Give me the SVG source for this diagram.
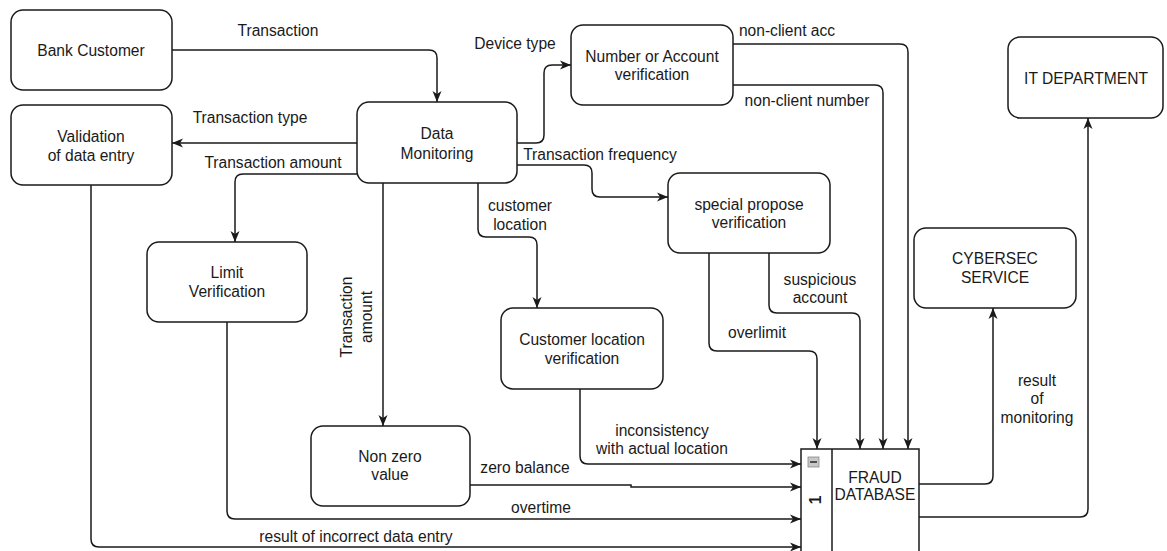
<svg xmlns="http://www.w3.org/2000/svg" width="1167" height="551" viewBox="0 0 1167 551">
<style>
.box{fill:#fff;stroke:#1a1a1a;stroke-width:1.5}
.t{font-family:"Liberation Sans",Arial,Helvetica,sans-serif;font-size:15.6px;fill:#1a1a1a;text-anchor:middle}
.e{fill:none;stroke:#1a1a1a;stroke-width:1.5}
.a{marker-end:url(#arr)}
</style>
<defs>
<marker id="arr" markerUnits="userSpaceOnUse" markerWidth="12" markerHeight="10" refX="11" refY="5" orient="auto" viewBox="0 0 12 10">
<path d="M0,0.5 L11,5 L0,9.5 L3,5 z" fill="#1a1a1a"/>
</marker>
</defs>
<rect width="1167" height="551" fill="#fff"/>

<g id="connectors">
<path class="e a" d="M172,50 H429 Q437,50 437,58 V102"/>
<path class="e a" d="M357,143 H172"/>
<path class="e a" d="M357,174 H243 Q235,174 235,182 V242"/>
<path class="e a" d="M383,183 V426"/>
<path class="e a" d="M478,183 V229 Q478,237 486,237 H529 Q537,237 537,245 V308"/>
<path class="e a" d="M517,143 H536 Q544,143 544,135 V73 Q544,65 552,65 H571"/>
<path class="e a" d="M517,165 H584 Q592,165 592,173 V189 Q592,197 600,197 H668"/>
<path class="e a" d="M733,44 H900 Q908,44 908,52 V449"/>
<path class="e a" d="M733,85 H875 Q883,85 883,93 V449"/>
<path class="e a" d="M709,253 V343 Q709,351 717,351 H809 Q817,351 817,359 V449"/>
<path class="e a" d="M769,253 V305 Q769,313 777,313 H852 Q860,313 860,321 V449"/>
<path class="e a" d="M580,389 V456 Q580,464 588,464 H801"/>
<path class="e a" d="M470,485 H631 V487 H801"/>
<path class="e a" d="M227,322 V511 Q227,519 235,519 H801"/>
<path class="e a" d="M91,185 V539 Q91,547 99,547 H801"/>
<path class="e a" d="M919,484 H985 Q993,484 993,476 V308"/>
<path class="e a" d="M919,517 H1080 Q1088,517 1088,509 V118"/>
</g>

<g id="labels">
<text class="t" x="278" y="36">Transaction</text>
<text class="t" x="250" y="123">Transaction type</text>
<text class="t" x="273" y="168">Transaction amount</text>
<text class="t" x="515" y="49">Device type</text>
<text class="t" x="600" y="160">Transaction frequency</text>
<text class="t" x="787" y="36">non-client acc</text>
<text class="t" x="807" y="106">non-client number</text>
<text class="t" x="520" y="211">customer</text>
<text class="t" x="520" y="230">location</text>
<text class="t" transform="translate(357,317) rotate(-90)" x="0" y="-5">Transaction</text>
<text class="t" transform="translate(357,317) rotate(-90)" x="0" y="15">amount</text>
<text class="t" x="820" y="285">suspicious</text>
<text class="t" x="820" y="303">account</text>
<text class="t" x="757" y="338">overlimit</text>
<text class="t" x="1037" y="386">result</text>
<text class="t" x="1037" y="404">of</text>
<text class="t" x="1037" y="423">monitoring</text>
<text class="t" x="662" y="436">inconsistency</text>
<text class="t" x="662" y="454">with actual location</text>
<text class="t" x="525" y="473">zero balance</text>
<text class="t" x="541" y="513">overtime</text>
<text class="t" x="356" y="542">result of incorrect data entry</text>
</g>

<g id="bank-customer">
<rect class="box" x="11" y="10" width="161" height="80" rx="12"/>
<text class="t" x="91" y="56">Bank Customer</text>
</g>
<g id="validation">
<rect class="box" x="11" y="105" width="161" height="80" rx="12"/>
<text class="t" x="91" y="142">Validation</text>
<text class="t" x="91" y="161">of data entry</text>
</g>
<g id="data-monitoring">
<rect class="box" x="357" y="102" width="160" height="81" rx="12"/>
<text class="t" x="437" y="139">Data</text>
<text class="t" x="437" y="159">Monitoring</text>
</g>
<g id="number-account">
<rect class="box" x="571" y="25" width="162" height="80" rx="12"/>
<text class="t" x="652" y="62">Number or Account</text>
<text class="t" x="652" y="80">verification</text>
</g>
<g id="it-department">
<rect class="box" x="1008" y="37" width="155" height="81" rx="12"/>
<text class="t" x="1086" y="84">IT DEPARTMENT</text>
</g>
<g id="special-propose">
<rect class="box" x="668" y="173" width="162" height="80" rx="12"/>
<text class="t" x="749" y="210">special propose</text>
<text class="t" x="749" y="228">verification</text>
</g>
<g id="limit-verification">
<rect class="box" x="147" y="242" width="160" height="80" rx="12"/>
<text class="t" x="227" y="278">Limit</text>
<text class="t" x="227" y="297">Verification</text>
</g>
<g id="customer-location">
<rect class="box" x="501" y="308" width="162" height="81" rx="12"/>
<text class="t" x="582" y="345">Customer location</text>
<text class="t" x="582" y="364">verification</text>
</g>
<g id="cybersec">
<rect class="box" x="914" y="228" width="162" height="80" rx="12"/>
<text class="t" x="995" y="264">CYBERSEC</text>
<text class="t" x="995" y="283">SERVICE</text>
</g>
<g id="non-zero">
<rect class="box" x="311" y="426" width="159" height="80" rx="12"/>
<text class="t" x="390" y="462">Non zero</text>
<text class="t" x="390" y="480">value</text>
</g>
<g id="fraud-database">
<rect class="box" x="801" y="449" width="118" height="115"/>
<line x1="832" y1="449" x2="832" y2="564" stroke="#1a1a1a" stroke-width="1.5"/>
<rect x="808" y="457" width="11" height="10" fill="#c8c8c8" stroke="#888" stroke-width="0.8"/>
<line x1="810" y1="462" x2="817" y2="462" stroke="#333" stroke-width="1.6"/>
<text class="t" transform="translate(816,500) rotate(-90)" x="0" y="5" font-weight="bold">1</text>
<text class="t" x="875" y="483">FRAUD</text>
<text class="t" x="875" y="500">DATABASE</text>
</g>
</svg>
